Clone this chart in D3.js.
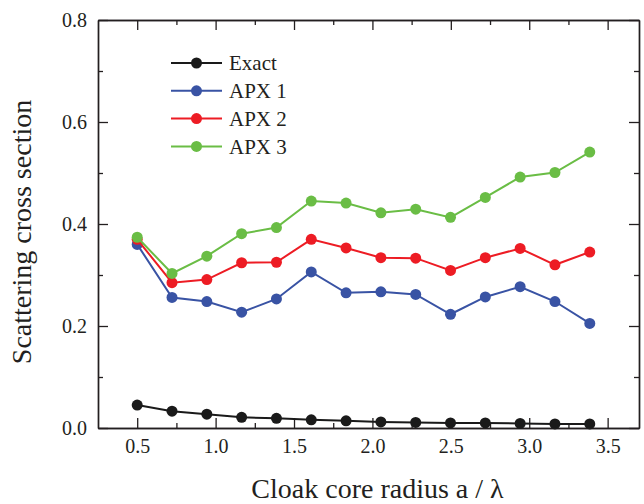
<!DOCTYPE html>
<meta charset="utf-8">
<script src="https://d3js.org/d3.v7.min.js"></script>
<style>
  body { margin: 0; background: #fff; }
  text { font-family: "Liberation Serif", "Times New Roman", serif; fill: #231f20; }
</style>
<div id="chart"></div>
<script>
// a / lambda values
var radius = [0.5, 0.722, 0.944, 1.166, 1.388, 1.61, 1.832, 2.054, 2.276, 2.498, 2.72, 2.942, 3.164, 3.386];

var exact = [0.045, 0.033, 0.027, 0.021, 0.019, 0.016, 0.014, 0.012, 0.011, 0.010, 0.010, 0.009, 0.008, 0.008];
var apx1  = [0.360, 0.256, 0.248, 0.227, 0.253, 0.306, 0.265, 0.267, 0.262, 0.223, 0.257, 0.277, 0.248, 0.205];
var apx2  = [0.370, 0.285, 0.291, 0.324, 0.325, 0.370, 0.353, 0.334, 0.333, 0.309, 0.334, 0.352, 0.320, 0.345];
var apx3  = [0.374, 0.303, 0.337, 0.381, 0.393, 0.445, 0.441, 0.422, 0.429, 0.413, 0.452, 0.492, 0.501, 0.541];

var seriesNames = ["Exact", "APX 1", "APX 2", "APX 3"];
var seriesColors = ["#1a1a1a", "#3953a4", "#ed1c24", "#6abd45"];
var seriesValues = [exact, apx1, apx2, apx3];

var xTicks = [0.5, 1.0, 1.5, 2.0, 2.5, 3.0, 3.5];
var xMinor = [0.75, 1.25, 1.75, 2.25, 2.75, 3.25];
var yTicks = [0.0, 0.2, 0.4, 0.6, 0.8];
var yMinor = [0.1, 0.3, 0.5, 0.7];

var width = 644, height = 504;
var plotLeft = 98, plotRight = 639, plotTop = 20, plotBottom = 428;

var svg = d3.select("#chart").append("svg")
    .attr("width", width)
    .attr("height", height);

var xScale = d3.scaleLinear().domain([0.25, 3.7]).range([plotLeft, plotRight]);
var yScale = d3.scaleLinear().domain([0, 0.8]).range([plotBottom, plotTop]);

// frame axes, ticks pointing inward on all four sides
function frameAxis(axisFn, scale, ticks, size, labels) {
    return axisFn(scale).tickValues(ticks).tickSize(size).tickSizeOuter(0)
        .tickFormat(labels ? d3.format(".1f") : "");
}

var axisColor = "#231f20";

function styleAxis(g) {
    g.select(".domain").attr("stroke", axisColor).attr("stroke-width", 1.4);
    g.selectAll(".tick line").attr("stroke", axisColor).attr("stroke-width", 1.3);
}

// bottom
svg.append("g").attr("transform", `translate(0,${plotBottom})`)
    .call(frameAxis(d3.axisTop, xScale, xMinor, 5, false)).call(styleAxis);
var gx = svg.append("g").attr("transform", `translate(0,${plotBottom})`)
    .call(frameAxis(d3.axisTop, xScale, xTicks, 10, true)).call(styleAxis);
gx.selectAll(".tick text").attr("y", 11).attr("dy", "0.71em")
    .attr("font-size", 20).style("font-family", "Liberation Serif");

// top
svg.append("g").attr("transform", `translate(0,${plotTop})`)
    .call(frameAxis(d3.axisBottom, xScale, xMinor, 5, false)).call(styleAxis);
svg.append("g").attr("transform", `translate(0,${plotTop})`)
    .call(frameAxis(d3.axisBottom, xScale, xTicks, 10, false)).call(styleAxis);

// left
svg.append("g").attr("transform", `translate(${plotLeft},0)`)
    .call(frameAxis(d3.axisRight, yScale, yMinor, 5, false)).call(styleAxis);
var gy = svg.append("g").attr("transform", `translate(${plotLeft},0)`)
    .call(frameAxis(d3.axisRight, yScale, yTicks, 10, true)).call(styleAxis);
gy.selectAll(".tick text").attr("x", -11).attr("text-anchor", "end")
    .attr("font-size", 20).style("font-family", "Liberation Serif");

// right
svg.append("g").attr("transform", `translate(${plotRight},0)`)
    .call(frameAxis(d3.axisLeft, yScale, yMinor, 5, false)).call(styleAxis);
svg.append("g").attr("transform", `translate(${plotRight},0)`)
    .call(frameAxis(d3.axisLeft, yScale, yTicks, 10, false)).call(styleAxis);

// axis titles
svg.append("text")
    .attr("x", (plotLeft + plotRight) / 2 + 9)
    .attr("y", 498)
    .attr("text-anchor", "middle")
    .attr("font-size", 28)
    .text("Cloak core radius a / λ");

svg.append("text")
    .attr("transform", "rotate(-90)")
    .attr("x", -232)
    .attr("y", 31)
    .attr("text-anchor", "middle")
    .attr("font-size", 28)
    .text("Scattering cross section");

// series
var line = d3.line()
    .x(function (d, i) { return xScale(radius[i]); })
    .y(function (d) { return yScale(d); });

seriesValues.forEach(function (vals, s) {
    var g = svg.append("g");
    g.append("path")
        .datum(vals)
        .attr("fill", "none")
        .attr("stroke", seriesColors[s])
        .attr("stroke-width", 2)
        .attr("d", line);
    g.selectAll("circle")
        .data(vals)
        .enter()
        .append("circle")
        .attr("cx", function (d, i) { return xScale(radius[i]); })
        .attr("cy", function (d) { return yScale(d); })
        .attr("r", 5.5)
        .attr("fill", seriesColors[s]);
});

// legend
var legend = svg.append("g").attr("transform", "translate(171,63)");
seriesNames.forEach(function (name, i) {
    var row = legend.append("g").attr("transform", `translate(0,${i * 27.8})`);
    row.append("line")
        .attr("x1", 0).attr("x2", 51)
        .attr("stroke", seriesColors[i]).attr("stroke-width", 2);
    row.append("circle")
        .attr("cx", 25.5).attr("r", 5.5)
        .attr("fill", seriesColors[i]);
    row.append("text")
        .attr("x", 58).attr("dy", "0.35em")
        .attr("font-size", 21)
        .text(name);
});
</script>
